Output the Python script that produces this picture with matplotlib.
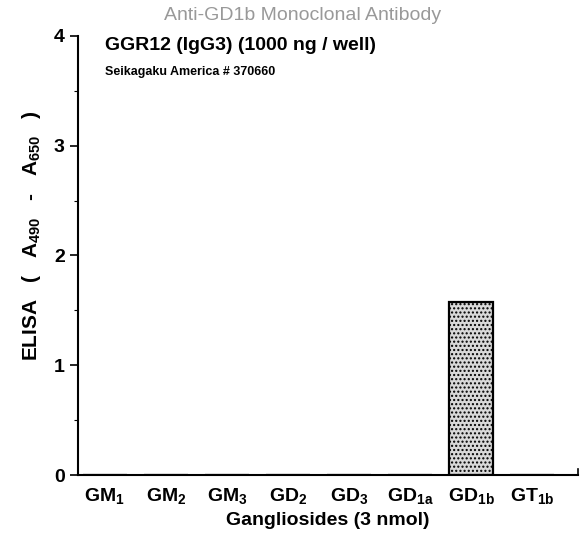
import matplotlib.pyplot as plt
import matplotlib
import numpy as np

# 글꼴 설정
matplotlib.rc('font', family='Liberation Sans')
matplotlib.rcParams['mathtext.fontset'] = 'custom'
matplotlib.rcParams['mathtext.bf'] = 'Liberation Sans:bold'
matplotlib.rcParams['mathtext.rm'] = 'Liberation Sans'
matplotlib.rcParams['hatch.color'] = '#888888'

# 데이터
gangliosides = [r'$\mathbf{GM_1}$', r'$\mathbf{GM_2}$', r'$\mathbf{GM_3}$', r'$\mathbf{GD_2}$',
                r'$\mathbf{GD_3}$', r'$\mathbf{GD_{1a}}$', r'$\mathbf{GD_{1b}}$', r'$\mathbf{GT_{1b}}$']
elisa = [0, 0, 0, 0, 0, 0, 1.58, 0]

fig = plt.figure(figsize=(5.81, 5.5), dpi=100)
ax = fig.add_axes([0.134, 0.136, 0.861, 0.799])

x = np.arange(len(gangliosides))
ax.bar(x, elisa, width=0.72, color='#d9d9d9', edgecolor='black', linewidth=1.6,
       hatch='....')

ax.set_xlim(-0.44, 7.75)
ax.set_ylim(0, 4)
ax.set_yticks([0, 1, 2, 3, 4])
ax.set_yticks(np.arange(0.5, 4, 1), minor=True)
ax.set_yticklabels(['0', '1', '2', '3', '4'], fontsize=14, fontweight='bold')
ax.tick_params(axis='y', which='major', length=6, width=1.2, direction='out')
ax.tick_params(axis='y', which='minor', length=3, width=0.8)

ax.set_xticks(x)
ax.set_xticklabels(gangliosides, fontsize=14)
ax.tick_params(axis='x', length=0, pad=8)

ax.spines['top'].set_visible(False)
ax.spines['right'].set_visible(False)
ax.spines['left'].set_linewidth(1.5)
ax.spines['bottom'].set_linewidth(1.5)
ax.axvline(7.75, ymin=0, ymax=0.015, color='black', linewidth=1.2, clip_on=False)

ax.set_ylabel(r'ELISA   (   A$_{\mathbf{490}}$   -   A$_{\mathbf{650}}$   )', fontsize=15,
              fontweight='bold')
ax.yaxis.set_label_coords(-0.07, 0.545)
ax.set_xlabel('Gangliosides (3 nmol)', fontsize=14, fontweight='bold', labelpad=4)

fig.text(0.52, 0.972, 'Anti-GD1b Monoclonal Antibody', ha='center', va='center',
         fontsize=14, color='#999999')
fig.text(0.181, 0.917, 'GGR12 (IgG3) (1000 ng / well)', ha='left', va='center',
         fontsize=14, fontweight='bold')
fig.text(0.181, 0.869, 'Seikagaku America # 370660', ha='left', va='center',
         fontsize=9, fontweight='bold')

plt.savefig('out.png', dpi=100)
